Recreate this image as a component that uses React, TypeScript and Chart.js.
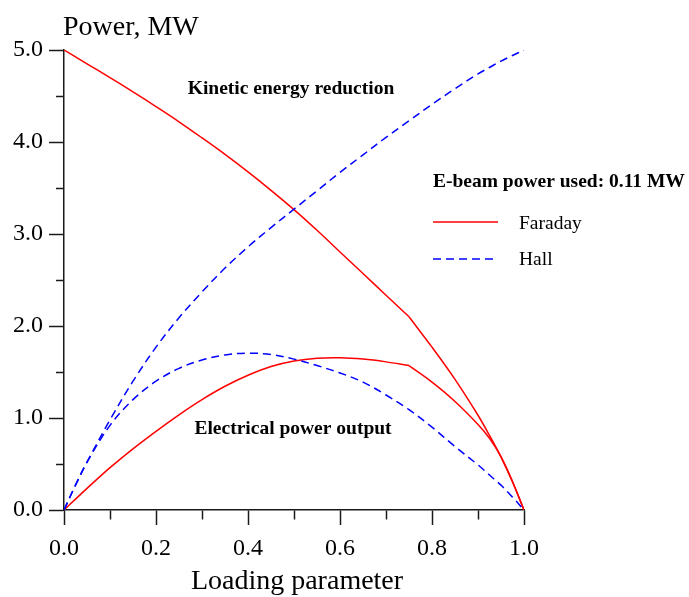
import React, { useEffect, useRef } from 'react';
import { Chart, registerables } from 'chart.js';

Chart.register(...registerables);

// Loading parameter values (x)
const loading = [0, 0.025, 0.05, 0.1, 0.15, 0.2, 0.25, 0.3, 0.35, 0.4, 0.45, 0.5, 0.55, 0.6, 0.65, 0.7, 0.75, 0.8, 0.85, 0.9, 0.925, 0.95, 0.975, 1.0];

// Kinetic energy reduction, MW
const faradayKinetic = [5.0, 4.925, 4.85, 4.70, 4.545, 4.385, 4.22, 4.045, 3.865, 3.675, 3.475, 3.265, 3.04, 2.805, 2.57, 2.335, 2.10, 1.77, 1.42, 1.03, 0.81, 0.575, 0.305, 0];
const hallKinetic = [0, 0.27, 0.52, 0.98, 1.40, 1.77, 2.09, 2.37, 2.63, 2.86, 3.07, 3.27, 3.47, 3.67, 3.86, 4.05, 4.23, 4.41, 4.58, 4.74, 4.81, 4.88, 4.94, 5.0];

// Electrical power output, MW
const faradayPower = [0, 0.118, 0.235, 0.46, 0.665, 0.855, 1.035, 1.20, 1.345, 1.465, 1.56, 1.62, 1.65, 1.655, 1.64, 1.61, 1.57, 1.39, 1.18, 0.93, 0.78, 0.58, 0.31, 0];
const hallPower = [0, 0.27, 0.52, 0.92, 1.20, 1.40, 1.54, 1.63, 1.685, 1.705, 1.69, 1.64, 1.57, 1.49, 1.39, 1.25, 1.09, 0.90, 0.69, 0.49, 0.38, 0.27, 0.14, 0];

// Faraday curves change regime at this loading value
const faradayBreak = 0.75;

const xMajorTicks = [0, 0.2, 0.4, 0.6, 0.8, 1.0];
const yMajorTicks = [0, 1, 2, 3, 4, 5];

const seriesNames = ['Faraday', 'Hall'];
const yAxisTitle = 'Power, MW';
const xAxisTitle = 'Loading parameter';
const kineticLabel = 'Kinetic energy reduction';
const powerLabel = 'Electrical power output';
const beamLabel = 'E-beam power used: 0.11 MW';

const RED = '#ff0000';
const BLUE = '#0000ff';
const AXIS = '#1a1a1a';
const SERIF = "'Liberation Serif', 'Times New Roman', serif";
const DASH = [8, 5];

const isIn = (list: number[], v: number) => list.some((m) => Math.abs(m - v) < 1e-6);
const pts = (ys: number[]) => loading.map((x, i) => ({ x, y: ys[i] }));
const before = (ys: number[]) => pts(ys).filter((p) => p.x <= faradayBreak + 1e-9);
const after = (ys: number[]) => pts(ys).filter((p) => p.x >= faradayBreak - 1e-9);

const annotations = {
  id: 'annotations',
  afterDraw(chart: any) {
    const ctx = chart.ctx;
    ctx.save();
    ctx.fillStyle = '#000';
    ctx.textBaseline = 'alphabetic';

    ctx.font = `28px ${SERIF}`;
    ctx.textAlign = 'left';
    ctx.fillText(yAxisTitle, 63, 35);
    ctx.textAlign = 'center';
    ctx.fillText(xAxisTitle, 297, 589);

    ctx.font = `bold 19.5px ${SERIF}`;
    ctx.fillText(kineticLabel, 291, 94);
    ctx.fillText(powerLabel, 293, 434);
    ctx.textAlign = 'left';
    ctx.fillText(beamLabel, 433, 187);

    // legend samples
    ctx.lineWidth = 1.5;
    ctx.strokeStyle = RED;
    ctx.setLineDash([]);
    ctx.beginPath();
    ctx.moveTo(433, 222);
    ctx.lineTo(498, 222);
    ctx.stroke();
    ctx.strokeStyle = BLUE;
    ctx.setLineDash(DASH);
    ctx.beginPath();
    ctx.moveTo(433, 259);
    ctx.lineTo(498, 259);
    ctx.stroke();
    ctx.setLineDash([]);

    ctx.font = `19.5px ${SERIF}`;
    ctx.fillText(seriesNames[0], 519, 229);
    ctx.fillText(seriesNames[1], 519, 265);
    ctx.restore();
  },
};

const lineStyle = (color: string, dashed: boolean) => ({
  borderColor: color,
  borderWidth: 1.5,
  borderDash: dashed ? DASH : [],
  pointRadius: 0,
  tension: 0.35,
  fill: false,
});

export default function App() {
  const ref = useRef<HTMLCanvasElement | null>(null);

  useEffect(() => {
    if (!ref.current) return;
    const chart = new Chart(ref.current, {
      type: 'line',
      data: {
        datasets: [
          { label: 'Hall kinetic', data: pts(hallKinetic), ...lineStyle(BLUE, true) },
          { label: 'Hall power', data: pts(hallPower), ...lineStyle(BLUE, true) },
          { label: 'Faraday kinetic', data: before(faradayKinetic), ...lineStyle(RED, false) },
          { label: 'Faraday kinetic (high load)', data: after(faradayKinetic), ...lineStyle(RED, false) },
          { label: 'Faraday power', data: before(faradayPower), ...lineStyle(RED, false) },
          { label: 'Faraday power (high load)', data: after(faradayPower), ...lineStyle(RED, false) },
        ],
      },
      options: {
        responsive: false,
        animation: false,
        events: [],
        layout: { padding: { left: 0, right: 165, top: 50, bottom: 0 } },
        plugins: { legend: { display: false }, tooltip: { enabled: false }, title: { display: false } },
        scales: {
          x: {
            type: 'linear',
            min: 0,
            max: 1,
            afterFit: (s: any) => { s.height = 87; },
            border: { display: true, color: AXIS, width: 1.5 },
            grid: {
              drawOnChartArea: false,
              drawTicks: true,
              tickLength: 15,
              tickColor: AXIS,
              tickWidth: 1.5,
              tickBorderDash: (c: any) => (isIn(xMajorTicks, c.tick ? c.tick.value : 0) ? [] : [9, 100]),
            },
            ticks: {
              stepSize: 0.1,
              autoSkip: false,
              maxRotation: 0,
              padding: 9,
              color: '#000',
              font: { family: SERIF, size: 24 },
              callback: (v: any) => (isIn(xMajorTicks, Number(v)) ? Number(v).toFixed(1) : ''),
            },
          },
          y: {
            type: 'linear',
            min: 0,
            max: 5,
            afterFit: (s: any) => { s.width = 64; },
            border: { display: true, color: AXIS, width: 1.5 },
            grid: {
              drawOnChartArea: false,
              drawTicks: true,
              tickLength: 15,
              tickColor: AXIS,
              tickWidth: 1.5,
              tickBorderDash: (c: any) => (isIn(yMajorTicks, c.tick ? c.tick.value : 0) ? [] : [0, 7, 8, 100]),
            },
            ticks: {
              stepSize: 0.5,
              autoSkip: false,
              padding: 6,
              color: '#000',
              font: { family: SERIF, size: 24 },
              callback: (v: any) => (isIn(yMajorTicks, Number(v)) ? Number(v).toFixed(1) : ''),
            },
          },
        },
      },
      plugins: [annotations],
    });
    return () => chart.destroy();
  }, []);

  return (
    <div style={{ position: 'absolute', left: 0, top: 0, width: 689, height: 597, background: '#fff' }}>
      <canvas ref={ref} width={689} height={597} style={{ display: 'block' }} />
    </div>
  );
}
